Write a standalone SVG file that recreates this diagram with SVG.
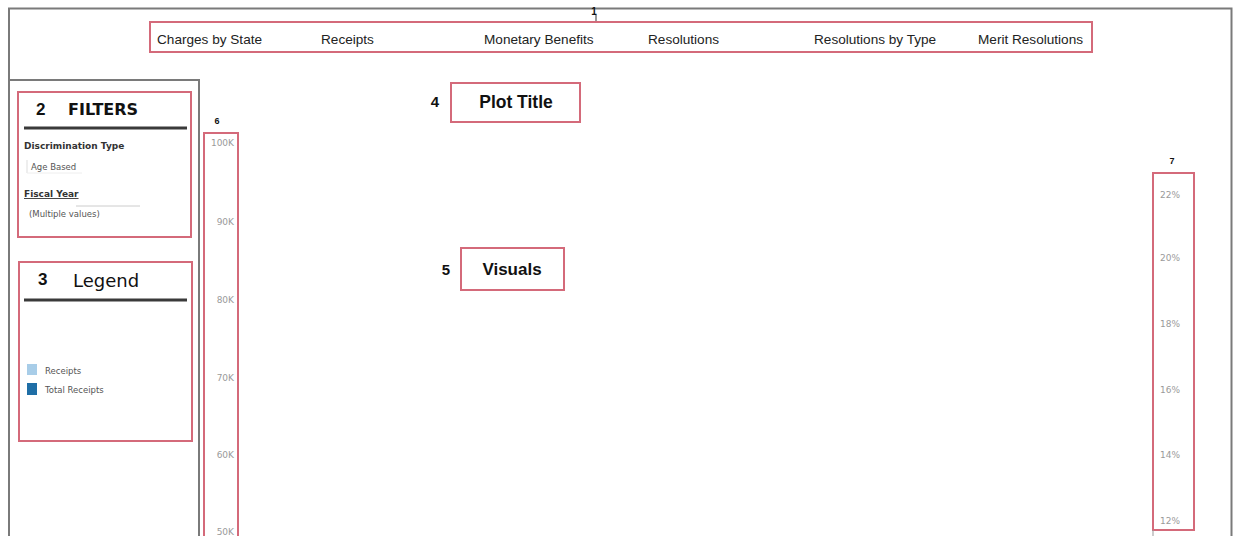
<svg xmlns="http://www.w3.org/2000/svg" width="1236" height="536" viewBox="0 0 1236 536">
<style>
.frame{fill:none;stroke:#7a7a7a;stroke-width:2}
.red{fill:none;stroke:#d46a7a;stroke-width:2}
.nav{font-family:"Liberation Sans",Arial,sans-serif;font-size:13.6px;fill:#222}
.num{font-family:"Liberation Sans",Arial,sans-serif;font-weight:bold;fill:#111}
.head{font-family:"DejaVu Sans",sans-serif;fill:#111}
.small{font-family:"DejaVu Sans",sans-serif;font-size:8.5px;fill:#555}
.lbl{font-family:"DejaVu Sans",sans-serif;font-size:9px;font-weight:bold;fill:#333}
.tick{font-family:"DejaVu Sans",sans-serif;font-size:9px;fill:#9a9a9a}
.rule{stroke:#3a3a3a;stroke-width:3}
</style>
<rect width="1236" height="536" fill="#ffffff"/>
<g id="frame">
<path class="frame" d="M9 536 V8.5 H1231.5 V536"/>
<path class="frame" d="M9 80 H199 V536"/>
</g>
<g id="nav">
<text class="num" x="594" y="15" font-size="10" text-anchor="middle">1</text>
<line x1="596" y1="15" x2="596" y2="22" stroke="#333" stroke-width="1"/>
<rect class="red" x="150" y="22" width="942" height="30"/>
<text class="nav" x="157" y="44">Charges by State</text>
<text class="nav" x="321" y="44">Receipts</text>
<text class="nav" x="484" y="44">Monetary Benefits</text>
<text class="nav" x="648" y="44">Resolutions</text>
<text class="nav" x="814" y="44">Resolutions by Type</text>
<text class="nav" x="978" y="44">Merit Resolutions</text>
</g>
<g id="filters">
<rect class="red" x="18" y="92" width="173" height="145"/>
<text class="num" x="36" y="115" font-size="17">2</text>
<text class="head" x="68" y="115" font-size="16" font-weight="bold">FILTERS</text>
<line class="rule" x1="24" y1="128" x2="187" y2="128"/>
<text class="lbl" x="24" y="149">Discrimination Type</text>
<line x1="27" y1="160" x2="27" y2="173" stroke="#ddd"/>
<line x1="27" y1="173" x2="82" y2="173" stroke="#eee"/>
<text class="small" x="31" y="170">Age Based</text>
<text class="lbl" x="24" y="197" text-decoration="underline">Fiscal Year</text>
<line x1="76" y1="206" x2="140" y2="206" stroke="#ccc"/>
<text class="small" x="29" y="217">(Multiple values)</text>
</g>
<g id="legend">
<rect class="red" x="19" y="262" width="173" height="179"/>
<text class="num" x="38" y="285" font-size="17">3</text>
<text class="head" x="73" y="287" font-size="18">Legend</text>
<line class="rule" x1="24" y1="300" x2="187" y2="300"/>
<rect x="27" y="364" width="10" height="11" fill="#a8cde8"/>
<text class="small" x="45" y="374">Receipts</text>
<rect x="27" y="383" width="10" height="12" fill="#1f6ea6"/>
<text class="small" x="45" y="393">Total Receipts</text>
</g>
<g id="left-axis">
<text class="num" x="217" y="124" font-size="9" text-anchor="middle">6</text>
<rect class="red" x="204" y="133" width="34" height="406"/>
<text class="tick" x="234" y="146" text-anchor="end">100K</text>
<text class="tick" x="234" y="225" text-anchor="end">90K</text>
<text class="tick" x="234" y="303" text-anchor="end">80K</text>
<text class="tick" x="234" y="381" text-anchor="end">70K</text>
<text class="tick" x="234" y="458" text-anchor="end">60K</text>
<text class="tick" x="234" y="535" text-anchor="end">50K</text>
</g>
<g id="plot-title">
<text class="num" x="435" y="107" font-size="15" text-anchor="middle">4</text>
<rect class="red" x="451" y="83" width="129" height="39"/>
<text class="num" x="516" y="108" font-size="17.5" text-anchor="middle">Plot Title</text>
</g>
<g id="visuals">
<text class="num" x="446" y="275" font-size="15" text-anchor="middle">5</text>
<rect class="red" x="461" y="248" width="103" height="42"/>
<text class="num" x="512" y="275" font-size="17" text-anchor="middle">Visuals</text>
</g>
<g id="right-axis">
<text class="num" x="1172" y="164" font-size="9" text-anchor="middle">7</text>
<rect class="red" x="1153" y="173" width="41" height="357"/>
<line x1="1153" y1="530" x2="1153" y2="536" stroke="#999"/>
<text class="tick" x="1160" y="198">22%</text>
<text class="tick" x="1160" y="261">20%</text>
<text class="tick" x="1160" y="327">18%</text>
<text class="tick" x="1160" y="393">16%</text>
<text class="tick" x="1160" y="458">14%</text>
<text class="tick" x="1160" y="524">12%</text>
</g>
</svg>
